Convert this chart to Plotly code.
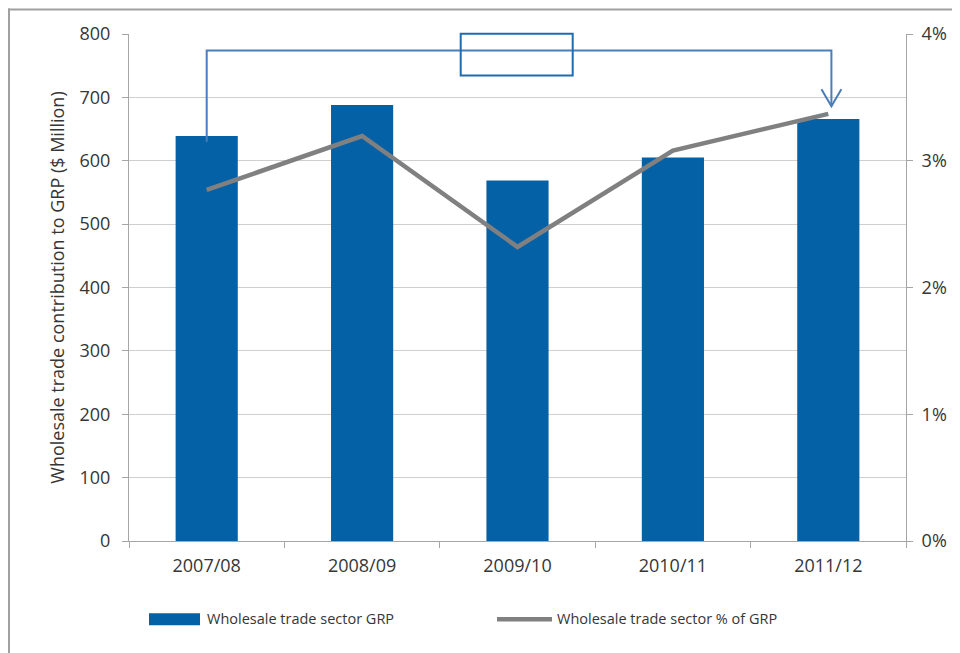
import plotly.graph_objects as go

categories = ["2007/08", "2008/09", "2009/10", "2010/11", "2011/12"]
grp_values = [639, 688, 569, 605, 666]
pct_values = [2.77, 3.195, 2.32, 3.08, 3.37]
left_ticks = [0, 100, 200, 300, 400, 500, 600, 700, 800]
right_ticks = [0, 1, 2, 3, 4]
right_labels = ["0%", "1%", "2%", "3%", "4%"]
bar_name = "Wholesale trade sector GRP"
line_name = "Wholesale trade sector % of GRP"
y_title = "Wholesale trade contribution to GRP ($ Million)"

FONT = "Open Sans"
TXT = "#363636"
BAR_C = "#0561A6"
LINE_C = "#808080"
ANN_C = "#4A7EBB"
AX_C = "#A6A6A6"

# the page body adds an 8px offset; figure is sized to compensate
OFF = 8
W, H = 952, 645
S_LEFT, S_RIGHT, S_TOP, S_BOT = 129, 906, 33.5, 541.5  # plot area on screen
L = S_LEFT - OFF
R = W - (S_RIGHT - OFF)
T = S_TOP - OFF
B = H - (S_BOT - OFF)


def px(x):
    return (x - S_LEFT) / (S_RIGHT - S_LEFT)


def py(y):
    return (S_BOT - y) / (S_BOT - S_TOP)


fig = go.Figure()
fig.add_trace(go.Bar(
    x=categories, y=grp_values, name=bar_name,
    marker=dict(color=BAR_C, line=dict(width=0)), yaxis="y", showlegend=False,
))
fig.add_trace(go.Scatter(
    x=categories, y=pct_values, name=line_name,
    mode="lines", line=dict(color=LINE_C, width=4.5), yaxis="y2", showlegend=False,
))

shapes = []
# outer border (top & left)
shapes.append(dict(type="line", xref="paper", yref="paper", x0=px(8), x1=px(980), y0=py(9), y1=py(9),
                   line=dict(color="#A0A0A0", width=2)))
shapes.append(dict(type="line", xref="paper", yref="paper", x0=px(9), x1=px(9), y0=py(8), y1=py(700),
                   line=dict(color="#A0A0A0", width=2)))
# connector from first bar to last point
tip_x = 4.02
shapes.append(dict(type="path", xref="x", yref="y",
                   path=f"M 0,{grp_values[0] - 9} L 0,774 L {tip_x},774 L {tip_x},686",
                   line=dict(color=ANN_C, width=2)))
# chevron arrow head
shapes.append(dict(type="path", xref="x", yref="y",
                   path=f"M {tip_x - 0.064},713 L {tip_x},686 L {tip_x + 0.064},713",
                   line=dict(color=ANN_C, width=2)))
# empty rectangle
shapes.append(dict(type="rect", xref="paper", yref="paper", x0=px(460.7), x1=px(572.7), y0=py(75), y1=py(33.3),
                   line=dict(color="#1F6CB0", width=2), fillcolor="rgba(0,0,0,0)"))
# custom legend swatches
shapes.append(dict(type="rect", xref="paper", yref="paper", x0=px(149), x1=px(200), y0=py(626), y1=py(614),
                   line=dict(width=0), fillcolor=BAR_C))
shapes.append(dict(type="line", xref="paper", yref="paper", x0=px(497), x1=px(552), y0=py(620), y1=py(620),
                   line=dict(color=LINE_C, width=4.5)))

annotations = [
    dict(text=bar_name, xref="paper", yref="paper", x=px(205), y=py(619), xanchor="left", yanchor="middle",
         showarrow=False, font=dict(family=FONT, size=14.5, color=TXT)),
    dict(text=line_name, xref="paper", yref="paper", x=px(555), y=py(619), xanchor="left", yanchor="middle",
         showarrow=False, font=dict(family=FONT, size=14.5, color=TXT)),
]

fig.update_layout(
    width=W, height=H,
    margin=dict(l=L, r=R, t=T, b=B, pad=0),
    paper_bgcolor="white", plot_bgcolor="white",
    font=dict(family=FONT, size=18, color=TXT),
    bargap=0.6,
    showlegend=False,
    xaxis=dict(
        type="category", showline=True, linecolor=AX_C, linewidth=1,
        ticks="outside", tickson="boundaries", ticklen=6, tickcolor=AX_C,
        showgrid=False, tickfont=dict(size=18, color=TXT), ticklabelstandoff=8,
    ),
    yaxis=dict(
        range=[0, 800], tickvals=left_ticks, showgrid=True, gridcolor="#CFCFCF", gridwidth=1,
        showline=True, linecolor=AX_C, ticks="outside", ticklen=6, tickcolor=AX_C,
        zeroline=False, tickfont=dict(size=18, color=TXT), ticklabelstandoff=8,
        title=dict(text=y_title, font=dict(size=18, color=TXT), standoff=10),
    ),
    yaxis2=dict(
        range=[0, 4], tickvals=right_ticks, ticktext=right_labels, overlaying="y", side="right",
        showgrid=False, showline=True, linecolor=AX_C, ticks="outside", ticklen=6,
        tickcolor=AX_C, zeroline=False, tickfont=dict(size=18, color=TXT), ticklabelstandoff=5,
    ),
    shapes=shapes,
    annotations=annotations,
)

fig.write_html("out.html")
